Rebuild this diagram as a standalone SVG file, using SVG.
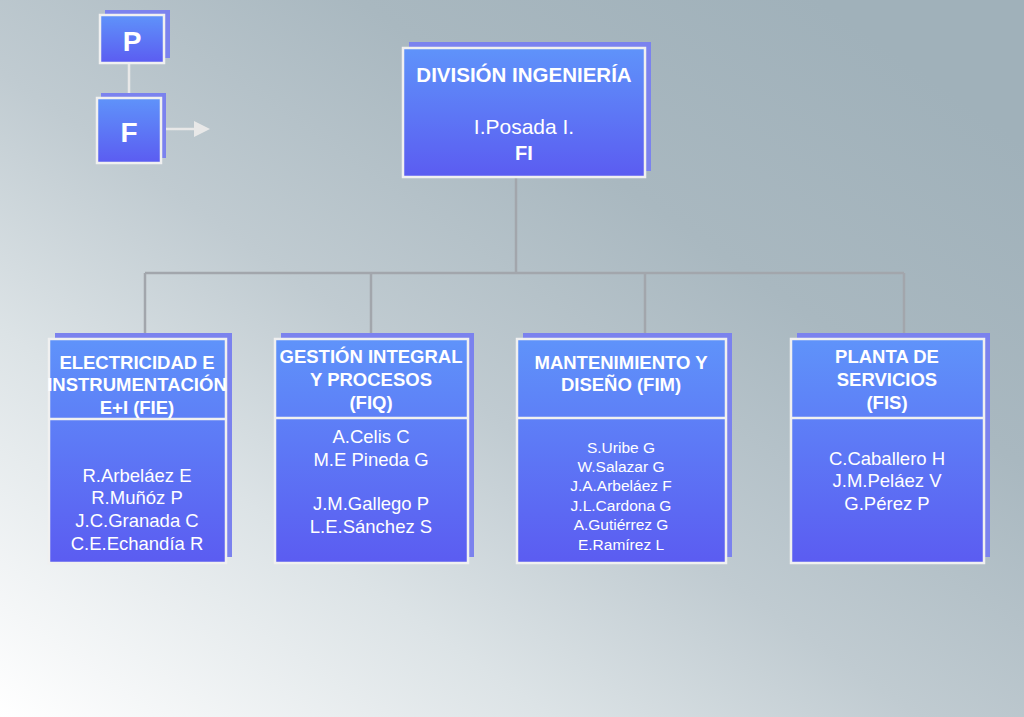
<svg xmlns="http://www.w3.org/2000/svg" width="1024" height="717" viewBox="0 0 1024 717">
<defs>
<linearGradient id="bg" x1="0" y1="1" x2="0.9" y2="0.1">
<stop offset="0" stop-color="#ffffff"/>
<stop offset="0.3" stop-color="#dce3e6"/>
<stop offset="0.5" stop-color="#c0cbd1"/>
<stop offset="0.75" stop-color="#a9b8c0"/>
<stop offset="1" stop-color="#a0b1ba"/>
</linearGradient>
<linearGradient id="bx" x1="0" y1="0" x2="0" y2="1">
<stop offset="0" stop-color="#5f93fa"/>
<stop offset="1" stop-color="#5b5cf1"/>
</linearGradient>
<style>
.sh{fill:#7b82ee}
.bx{fill:url(#bx);stroke:#f0f0f0;stroke-width:2.5}
.cn{stroke:#a2a6ac;stroke-width:2.5;fill:none}
text{font-family:"Liberation Sans",Arial,sans-serif;fill:#fff;text-anchor:middle}
.h{font-weight:bold;font-size:18.5px}
.n{font-size:18.5px}
.s{font-size:15.5px}
</style>
</defs>
<rect width="1024" height="717" fill="url(#bg)"/>
<g id="connectors">
<path class="cn" d="M516,177 V273 M145,273 H904 M145,273 V339 M371,273 V339 M645,273 V339 M904,273 V339"/>
<path d="M129,63 V98" stroke="#e8e8e8" stroke-width="2.5"/>
<path d="M162,129 H196" stroke="#e8e8e8" stroke-width="2.5"/>
<path d="M194,121 L210,129 L194,137 z" fill="#e8e8e8"/>
</g>
<g id="P"><rect class="sh" x="105" y="10" width="65" height="48"/><rect class="bx" x="100" y="15" width="64" height="48"/><text x="132" y="51" style="font-weight:bold;font-size:28px">P</text></g>
<g id="F"><rect class="sh" x="101" y="93" width="65" height="65"/><rect class="bx" x="97" y="98" width="64" height="65"/><text x="129" y="142" style="font-weight:bold;font-size:28px">F</text></g>
<g id="top"><rect class="sh" x="409" y="42" width="242" height="129"/><rect class="bx" x="403" y="48" width="242" height="129"/>
<text class="h" x="524" y="82" style="font-size:20.5px">DIVISIÓN INGENIERÍA</text><text x="524" y="134" style="font-size:21px">I.Posada I.</text><text class="h" x="524" y="160" style="font-size:20px">FI</text></g>
<g id="fie"><rect class="sh" x="55" y="333" width="177" height="224"/><rect class="bx" x="49" y="339" width="177" height="224"/><line x1="49" y1="419" x2="226" y2="419" stroke="#f0f0f0" stroke-width="2.5"/>
<text class="h" x="137" y="369">ELECTRICIDAD E</text><text class="h" x="137" y="391">INSTRUMENTACIÓN</text><text class="h" x="137" y="414">E+I (FIE)</text>
<text class="n" x="137" y="482">R.Arbeláez E</text><text class="n" x="137" y="504">R.Muñóz P</text><text class="n" x="137" y="527">J.C.Granada C</text><text class="n" x="137" y="550">C.E.Echandía R</text></g>
<g id="fiq"><rect class="sh" x="281" y="333" width="193" height="224"/><rect class="bx" x="275" y="339" width="193" height="224"/><line x1="275" y1="418" x2="468" y2="418" stroke="#f0f0f0" stroke-width="2.5"/>
<text class="h" x="371" y="363">GESTIÓN INTEGRAL</text><text class="h" x="371" y="386">Y PROCESOS</text><text class="h" x="371" y="409">(FIQ)</text>
<text class="n" x="371" y="443">A.Celis C</text><text class="n" x="371" y="466">M.E Pineda G</text><text class="n" x="371" y="510">J.M.Gallego P</text><text class="n" x="371" y="533">L.E.Sánchez S</text></g>
<g id="fim"><rect class="sh" x="523" y="333" width="209" height="224"/><rect class="bx" x="517" y="339" width="209" height="224"/><line x1="517" y1="418" x2="726" y2="418" stroke="#f0f0f0" stroke-width="2.5"/>
<text class="h" x="621" y="369">MANTENIMIENTO Y</text><text class="h" x="621" y="391">DISEÑO (FIM)</text>
<text class="s" x="621" y="453">S.Uribe G</text><text class="s" x="621" y="472">W.Salazar G</text><text class="s" x="621" y="491">J.A.Arbeláez F</text><text class="s" x="621" y="511">J.L.Cardona G</text><text class="s" x="621" y="530">A.Gutiérrez G</text><text class="s" x="621" y="550">E.Ramírez L</text></g>
<g id="fis"><rect class="sh" x="797" y="333" width="193" height="224"/><rect class="bx" x="791" y="339" width="193" height="224"/><line x1="791" y1="418" x2="984" y2="418" stroke="#f0f0f0" stroke-width="2.5"/>
<text class="h" x="887" y="363">PLANTA DE</text><text class="h" x="887" y="386">SERVICIOS</text><text class="h" x="887" y="409">(FIS)</text>
<text class="n" x="887" y="465">C.Caballero H</text><text class="n" x="887" y="487">J.M.Peláez V</text><text class="n" x="887" y="510">G.Pérez P</text></g>
</svg>
